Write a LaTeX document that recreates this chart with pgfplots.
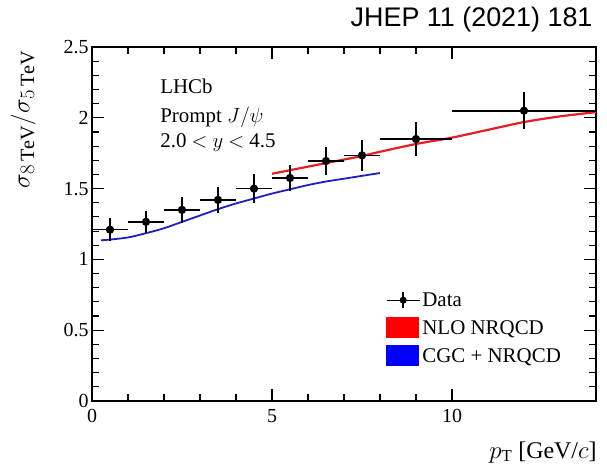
\documentclass[border=0pt]{standalone}
\usepackage{fontspec}
\setmainfont{Liberation Serif}
\newfontfamily\arialfont{Liberation Sans}
\usepackage{pgfplots}
\pgfplotsset{compat=1.18}
\usepackage{pgfplotstable}

\definecolor{nlored}{RGB}{228,30,35}
\definecolor{cgcblue}{RGB}{30,30,195}

% ratio 8 TeV / 5 TeV, prompt J/psi
\pgfplotstableread{
x   xerr  y     yerr
0.5 0.5   1.21  0.08
1.5 0.5   1.265 0.08
2.5 0.5   1.35  0.09
3.5 0.5   1.42  0.09
4.5 0.5   1.50  0.10
5.5 0.5   1.575 0.09
6.5 0.5   1.695 0.10
7.5 0.5   1.735 0.11
9   1.0   1.85  0.12
12  2.0   2.05  0.13
}\ratiodata

\pgfplotstableread{
x    y
5.0  1.605
6.0  1.655
7.0  1.705
7.5  1.73
8.0  1.76
9.0  1.815
10.0 1.86
11.0 1.915
12.0 1.97
13.0 2.01
14.0 2.04
}\nlodata

\pgfplotstableread{
x    y
0.25 1.135
0.5  1.14
1.0  1.155
1.5  1.185
2.0  1.22
2.5  1.265
3.0  1.31
3.5  1.355
4.0  1.395
4.5  1.43
5.0  1.465
5.5  1.495
6.0  1.525
6.5  1.55
7.0  1.57
7.5  1.59
8.0  1.61
}\cgcdata

\begin{document}
\begin{tikzpicture}
\useasboundingbox (0,0) rectangle (607bp,467bp);
\begin{axis}[
    at={(92bp,66bp)}, anchor=south west,
    scale only axis,
    width=504bp, height=354bp,
    xmin=0, xmax=14, ymin=0, ymax=2.5,
    xtick={0,5,10}, ytick={0,0.5,1,1.5,2,2.5},
    minor x tick num=4, minor y tick num=4,
    tick align=inside,
    major tick length=12bp, minor tick length=7bp,
    axis line style={line width=1.6bp},
    every tick/.style={black, line width=1.1bp},
    ticklabel style={font=\fontsize{20}{24}\selectfont},
    xticklabel style={yshift=-5bp},
    /pgf/number format/assume math mode=true,
    xlabel={$p_{\mathrm{T}}$ [GeV/$c$]},
    xlabel style={at={(rel axis cs:1,0)}, anchor=north east, yshift=-37bp, xshift=4bp,
        font=\fontsize{24}{28}\selectfont},
    ylabel={$\sigma_{8\,\mathrm{TeV}}/\sigma_{5\,\mathrm{TeV}}$},
    ylabel style={at={(rel axis cs:-0.105,1)}, anchor=south east,
        font=\fontsize{29}{33}\selectfont},
    legend style={at={(rel axis cs:0.577,0.318)}, anchor=north west,
        draw=none, fill=none, font=\fontsize{21}{25}\selectfont,
        row sep=7bp},
    legend cell align=left,
]
\addlegendimage{legend image code/.code={
    \draw[line width=1.4pt] (0bp,0bp) -- (33bp,0bp);
    \draw[line width=1.4pt] (16.5bp,-8bp) -- (16.5bp,8bp);
    \fill (16.5bp,0bp) circle (3.3bp);}}
\addlegendentry{Data}
\addlegendimage{legend image code/.code={
    \fill[red] (0bp,-9bp) rectangle (32bp,11bp);}}
\addlegendentry{NLO NRQCD}
\addlegendimage{legend image code/.code={
    \fill[blue] (0bp,-9bp) rectangle (32bp,11bp);}}
\addlegendentry{CGC + NRQCD}

\addplot[cgcblue, line width=1.8bp, smooth, forget plot] table[x=x, y=y] {\cgcdata};
\addplot[nlored, line width=2.2bp, smooth, forget plot] table[x=x, y=y] {\nlodata};
\addplot[black, line width=1.6bp, only marks, mark=*, mark size=3.3bp, forget plot,
    error bars/.cd, x dir=both, x explicit, y dir=both, y explicit,
    error mark=none, error bar style={line width=1.6bp}]
    table[x=x, y=y, x error=xerr, y error=yerr] {\ratiodata};

\node[anchor=base west, font=\fontsize{21}{25}\selectfont] at (axis cs:1.8,2.175) {LHCb};
\node[anchor=base west, font=\fontsize{21}{25}\selectfont] at (axis cs:1.8,1.97) {Prompt $J/\psi$};
\node[anchor=base west, font=\fontsize{21}{25}\selectfont] at (axis cs:1.8,1.787) {2.0 $<$ $y$ $<$ 4.5};
\end{axis}
\node[anchor=base east, font=\arialfont\fontsize{27}{32}\selectfont] at (596bp,440bp) {JHEP 11 (2021) 181};
\end{tikzpicture}
\end{document}
